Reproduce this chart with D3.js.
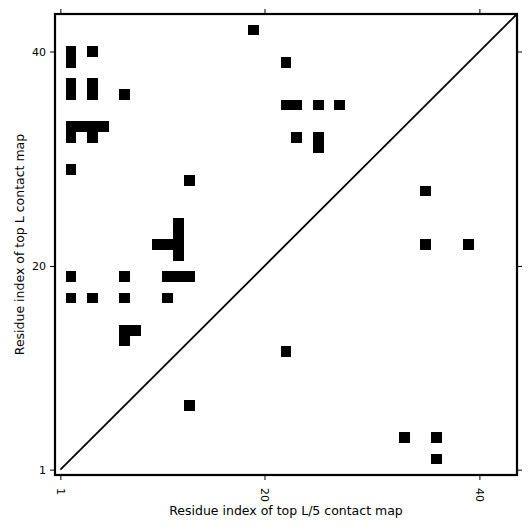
<!DOCTYPE html>
<html>
<head>
<meta charset="utf-8">
<script src="https://cdn.jsdelivr.net/npm/d3@7"></script>
<style>
html, body { margin: 0; padding: 0; background: #fff; }
svg { display: block; }
text { font-family: "DejaVu Sans", sans-serif; fill: #000; }
</style>
</head>
<body>
<svg id="chart" width="531" height="531"></svg>
<script>
// Contact cells (residue i on x, residue j on y)
const contactX = [2, 2, 4, 2, 2, 4, 4, 7, 2, 3, 4, 5, 2, 4, 2, 13,
  12, 12, 12, 12, 10, 11, 2, 7, 11, 12, 13, 2, 4, 7, 11, 7, 8, 7,
  19, 22, 22, 23, 25, 27, 23, 25, 25, 35, 35, 39,
  22, 13, 33, 36, 36];
const contactY = [40, 39, 40, 37, 36, 37, 36, 36, 33, 33, 33, 33, 32, 32, 29, 28,
  24, 23, 22, 21, 22, 22, 19, 19, 19, 19, 19, 17, 17, 17, 17, 14, 14, 13,
  42, 39, 35, 35, 35, 35, 32, 32, 31, 27, 22, 22,
  12, 7, 4, 4, 2];
const seqLength = 43;
const tickValues = [1, 20, 40];
const xLabel = "Residue index of top L/5 contact map";
const yLabel = "Residue index of top L contact map";

const cells = contactX.map((x, i) => ({x: x, y: contactY[i]}));

const margin = {left: 55, top: 14, right: 14, bottom: 56};
const W = 531, H = 531;
const w = W - margin.left - margin.right;   // 462
const h = H - margin.top - margin.bottom;   // 461

const svg = d3.select("#chart");
const g = svg.append("g").attr("transform", `translate(${margin.left},${margin.top})`);

const xs = d3.scaleLinear().domain([0.5, seqLength + 0.5]).range([0, w]);
const ys = d3.scaleLinear().domain([0.5, seqLength + 0.5]).range([h, 0]);

// cells (edges snapped to whole pixels so neighbours join without seams)
const px = v => Math.round(v);
g.selectAll("rect.cell").data(cells).enter().append("rect")
  .attr("class", "cell")
  .attr("x", d => px(xs(d.x - 0.5)))
  .attr("y", d => px(ys(d.y + 0.5)))
  .attr("width", d => px(xs(d.x + 0.5)) - px(xs(d.x - 0.5)))
  .attr("height", d => px(ys(d.y - 0.5)) - px(ys(d.y + 0.5)))
  .attr("fill", "#000")
  .attr("shape-rendering", "crispEdges");

// diagonal
g.append("line")
  .attr("x1", xs(1)).attr("y1", ys(1))
  .attr("x2", xs(seqLength + 0.5)).attr("y2", ys(seqLength + 0.5))
  .attr("stroke", "#000").attr("stroke-width", 1.8);

// axes
const tickFont = "11px";
const axB = g.append("g").attr("transform", `translate(0,${h})`)
  .call(d3.axisBottom(xs).tickValues(tickValues).tickSize(5).tickSizeOuter(0).tickFormat(d3.format("d")));
axB.selectAll("text")
  .attr("transform", "rotate(90)")
  .attr("x", 13).attr("y", 0).attr("dy", "0.35em")
  .style("text-anchor", "start").style("font-size", tickFont)
  .style("font-family", "DejaVu Sans");

const axL = g.append("g")
  .call(d3.axisLeft(ys).tickValues(tickValues).tickSize(5).tickSizeOuter(0).tickFormat(d3.format("d")));
axL.selectAll("text").attr("x", -9).style("font-size", tickFont).style("font-family", "DejaVu Sans");

const axT = g.append("g")
  .call(d3.axisTop(xs).tickValues(tickValues).tickSize(5).tickSizeOuter(0).tickFormat(""));
const axR = g.append("g").attr("transform", `translate(${w},0)`)
  .call(d3.axisRight(ys).tickValues(tickValues).tickSize(5).tickSizeOuter(0).tickFormat(""));

[axB, axL, axT, axR].forEach(a => {
  a.select(".domain").remove();
  a.selectAll(".tick line").attr("stroke", "#000").attr("stroke-width", 1);
});

// frame
g.append("rect").attr("x", 0).attr("y", 0).attr("width", w).attr("height", h)
  .attr("fill", "none").attr("stroke", "#000").attr("stroke-width", 2.2);

// labels
svg.append("text")
  .attr("x", margin.left + w / 2).attr("y", 514.5)
  .attr("text-anchor", "middle").style("font-size", "12.5px")
  .text(xLabel);

svg.append("text")
  .attr("transform", `translate(24,${margin.top + h / 2}) rotate(-90)`)
  .attr("text-anchor", "middle").style("font-size", "12.5px")
  .text(yLabel);
</script>
</body>
</html>
